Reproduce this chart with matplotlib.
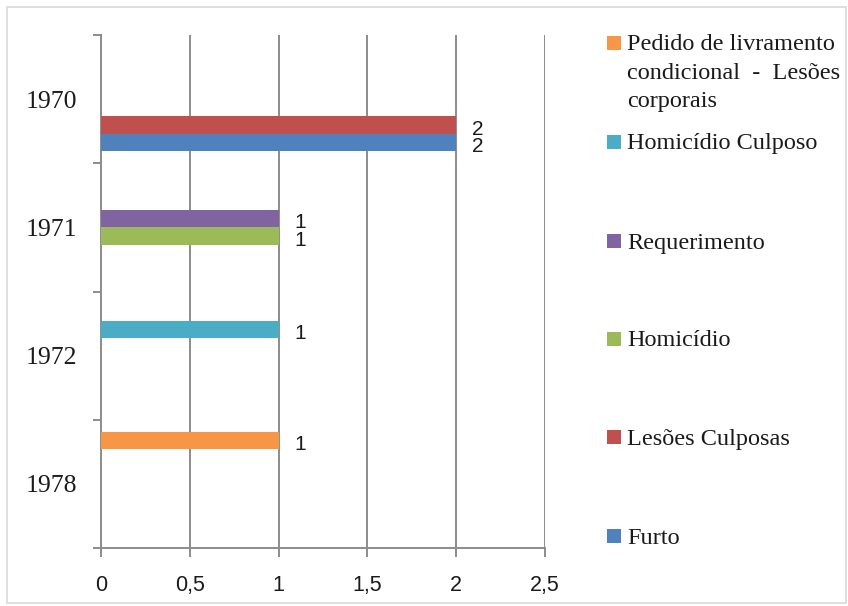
import numpy as np
import matplotlib
matplotlib.use("Agg")
import matplotlib.pyplot as plt
from matplotlib.patches import Rectangle

# Categories (top to bottom) and series values
years = ["1970", "1971", "1972", "1978"]
furto = [2, 0, 0, 0]
lesoes_culposas = [2, 0, 0, 0]
homicidio = [0, 1, 0, 0]
requerimento = [0, 1, 0, 0]
homicidio_culposo = [0, 0, 1, 0]
pedido_livramento = [0, 0, 0, 1]

series_names = [
    "Pedido de livramento condicional - Lesões corporais",
    "Homicídio Culposo",
    "Requerimento",
    "Homicídio",
    "Lesões Culposas",
    "Furto",
]
series_values = [pedido_livramento, homicidio_culposo, requerimento,
                 homicidio, lesoes_culposas, furto]
colors = ["#F79646", "#4BACC6", "#8064A2", "#9BBB59", "#C0504D", "#4F81BD"]

x_ticks = [0, 0.5, 1, 1.5, 2, 2.5]
x_ticklabels = ["0", "0,5", "1", "1,5", "2", "2,5"]

W, H = 848, 606
fig = plt.figure(figsize=(W / 100, H / 100), dpi=100)
fig.patch.set_facecolor("white")

# light frame around the whole chart
fig.add_artist(Rectangle((7 / W, 1 - 603 / H), 839 / W, 596 / H,
                         transform=fig.transFigure, fill=False,
                         edgecolor="#d9d9d9", linewidth=1.2))

left, right, top, bottom = 101, 545, 35, 548
ax = fig.add_axes([left / W, 1 - bottom / H, (right - left) / W, (bottom - top) / H])

n_series = len(series_values)
gap = 24 / 128
bar_h = (1 - gap) / n_series
y = np.arange(len(years))
grid_col = "#8c8c8c"

sans = "Liberation Sans"
serif = "Liberation Serif"

for i, (vals, col) in enumerate(zip(series_values, colors)):
    k = n_series - 1 - i  # slot counted from the bottom of each band
    offs = (n_series / 2 - 0.5 - k) * bar_h
    bars = ax.barh(y + offs, vals, height=bar_h, color=col, zorder=3)
    for b, v in zip(bars, vals):
        if v:
            ax.annotate(f"{v}", (v, b.get_y() + b.get_height() / 2),
                        xytext=(11.5, -3), textcoords="offset points",
                        ha="left", va="center", fontsize=15,
                        family=sans, color="#1a1a1a")

ax.set_xlim(0, 2.5)
ax.set_ylim(len(years) - 0.5, -0.5)
ax.set_axisbelow(True)
ax.xaxis.grid(True, color=grid_col, linewidth=1.4)
ax.yaxis.grid(False)

ax.set_xticks(x_ticks)
ax.set_xticklabels(x_ticklabels, fontsize=15.5, family=sans, color="#1a1a1a")
ax.tick_params(axis="x", length=6.5, width=1.4, color=grid_col, pad=13)

ax.set_yticks(np.arange(len(years) + 1) - 0.5)
ax.set_yticklabels([])
ax.tick_params(axis="y", which="major", length=5.8, width=1.4, color=grid_col)
ax.set_yticks(y, minor=True)
ax.set_yticklabels(years, minor=True, fontsize=18.5, family=serif, color="#1a1a1a")
ax.tick_params(axis="y", which="minor", length=0, pad=17)

for s in ["top", "right"]:
    ax.spines[s].set_visible(False)
for s in ["left", "bottom"]:
    ax.spines[s].set_color(grid_col)
    ax.spines[s].set_linewidth(1.4)

# legend on the right
legend_y = [43, 142, 241, 339, 437, 536]
legend_lines = [
    ["Pedido de livramento", "condicional  -  Lesões", "corporais"],
    ["Homicídio Culposo"], ["Requerimento"], ["Homicídio"],
    ["Lesões Culposas"], ["Furto"],
]
sq = 14
for name, lines, col, yc in zip(series_names, legend_lines, colors, legend_y):
    fig.add_artist(Rectangle((607 / W, 1 - (yc + sq / 2) / H), sq / W, sq / H,
                             transform=fig.transFigure, facecolor=col,
                             edgecolor="none"))
    for j, line in enumerate(lines):
        fig.text(627 / W, 1 - (yc + 2 + j * 28.5) / H, line, ha="left",
                 va="center", fontsize=17.5, family=serif, color="#1a1a1a")

fig.savefig("out.png", dpi=100, facecolor="white")
